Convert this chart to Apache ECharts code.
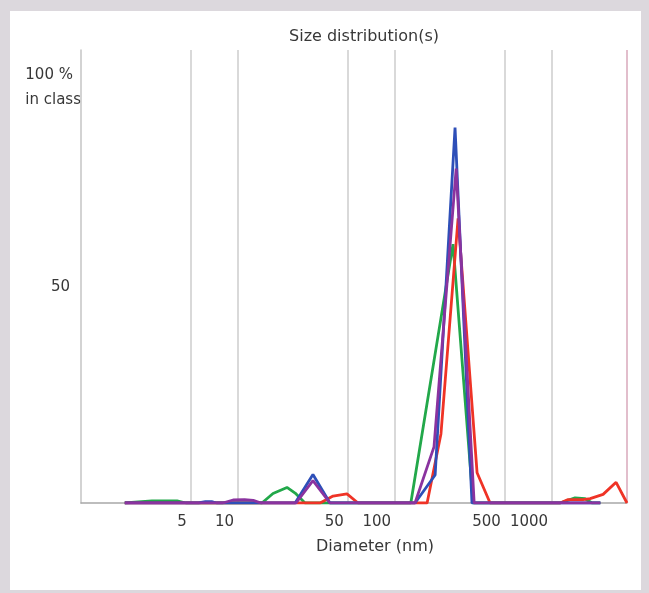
<!DOCTYPE html>
<html>
<head>
<meta charset="utf-8">
<script src="https://cdn.jsdelivr.net/npm/echarts@6/dist/echarts.min.js"></script>
<style>
html,body{margin:0;padding:0;}
#frame{position:absolute;left:0;top:0;width:649px;height:593px;background:#dcd8dd;}
#paper{position:absolute;left:10px;top:11px;width:631px;height:579px;background:#ffffff;}
#chart{position:absolute;left:0;top:0;width:649px;height:593px;}
</style>
</head>
<body>
<div id="frame"><div id="paper"></div></div>
<div id="chart"></div>
<script>
// Diameter grid lines / tick labels (nm)
const tickValues = [5, 10, 50, 100, 500, 1000];
const axisEnd = 3000;

// Green series
const greenDiam = [1.9, 2.83, 4.09, 4.66, 9.9, 14.2, 16.7, 20.5, 23.1, 26.7, 126, 234, 314, 1125, 1400, 1622, 1798, 2030];
const greenPct  = [0,   0.5,  0.5,  0,    0,   0,    2.2,  3.6,  2.3,  0,    0,   60,  0,   0,    1.2,  1.0,  0,    0];

// Red series
const redDiam = [1.9, 33.3, 40.3, 49.4, 58.1, 160, 196, 252, 333, 403, 1125, 1265, 1575, 1746, 2113, 2557, 3000];
const redPct  = [0,   0,    1.6,  2.1,  0,    0,   16,  66,  7,   0,   0,    0.8,  0.8,  1.0,  2.0,  4.8,  0];

// Blue series
const blueDiam = [1.9, 5.6, 6.2, 6.8, 7.3, 23.1, 30.0, 38.5, 134, 180, 241, 309, 2030];
const bluePct  = [0,   0,   0.3, 0.3, 0,   0,    6.6,  0,    0,   6.5, 87,  0,   0];

// Purple series
const purpleDiam = [1.9, 8.0, 9.3, 11.0, 12.5, 14.0, 23.4, 30.0, 38.5, 134, 177, 245, 319, 2030];
const purplePct  = [0,   0,   0.7, 0.8,  0.6,  0,    0,    5.2,  0,    0,   13,  77.5, 0,  0];

const zip = (a, b) => a.map((d, i) => [d, b[i]]);
const FONT = 'DejaVu Sans';
const TXT = '#383838';

const chart = echarts.init(document.getElementById('chart'), null, {renderer: 'canvas'});

const gridLines = tickValues.map(v => ({
  xAxis: v, name: String(v),
  lineStyle: {color: '#cdcdcd', width: 1.5, type: 'solid'}
}));
gridLines.push({
  xAxis: axisEnd, name: '',
  lineStyle: {color: '#d8a9bb', width: 1.5, type: 'solid'},
  label: {show: false}
});

const mk = (name, color, diam, pct, extra) => Object.assign({
  name, type: 'line', symbol: 'none', smooth: false,
  data: zip(diam, pct),
  lineStyle: {color, width: 2.8},
  itemStyle: {color},
  animation: false
}, extra || {});

chart.setOption({
  animation: false,
  backgroundColor: 'transparent',
  title: {
    text: 'Size distribution(s)',
    left: 359, top: 24, textAlign: 'center',
    textStyle: {fontFamily: FONT, fontSize: 16, fontWeight: 'normal', color: TXT}
  },
  grid: {left: 81, right: 22, top: 50, bottom: 90, containLabel: false},
  xAxis: {
    type: 'log', logBase: 10, min: 1, max: axisEnd,
    axisLine: {show: true, lineStyle: {color: '#a8a8a8', width: 1.5}},
    axisTick: {show: false},
    axisLabel: {show: false},
    splitLine: {show: false},
    name: 'Diameter (nm)', nameLocation: 'middle', nameGap: 36,
    nameTextStyle: {fontFamily: FONT, fontSize: 16, color: TXT, padding: [0, 0, 0, 42]}
  },
  yAxis: {
    type: 'value', min: 0, max: 105, interval: 50,
    axisLine: {show: true, lineStyle: {color: '#c4c4c4', width: 1.5}},
    axisTick: {show: false},
    splitLine: {show: false},
    axisLabel: {
      margin: 11, fontFamily: FONT, fontSize: 15, color: TXT,
      formatter: v => (v === 50 ? '50' : '')
    },
    name: '{a|100 %}\n{a|in class}',
    nameLocation: 'end', nameGap: -13,
    nameTextStyle: {
      fontFamily: FONT, fontSize: 15, color: TXT,
      align: 'right', verticalAlign: 'top', lineHeight: 25,
      rich: {a: {align: 'left', fontFamily: FONT, fontSize: 15, color: TXT, lineHeight: 25}}
    }
  },
  series: [
    mk('green', '#22a84a', greenDiam, greenPct, {
      markLine: {
        silent: true, symbol: 'none', animation: false,
        label: {
          show: true, position: 'start', formatter: '{b}', distance: 12,
          align: 'right', padding: [0, 4, 0, 0],
          fontFamily: FONT, fontSize: 15, color: TXT
        },
        data: gridLines,
        z: 1
      },
      z: 3
    }),
    mk('red', '#ef3326', redDiam, redPct, {z: 4}),
    mk('blue', '#2e4fb8', blueDiam, bluePct, {z: 5}),
    mk('purple', '#8a339f', purpleDiam, purplePct, {z: 6})
  ]
});
</script>
</body>
</html>
